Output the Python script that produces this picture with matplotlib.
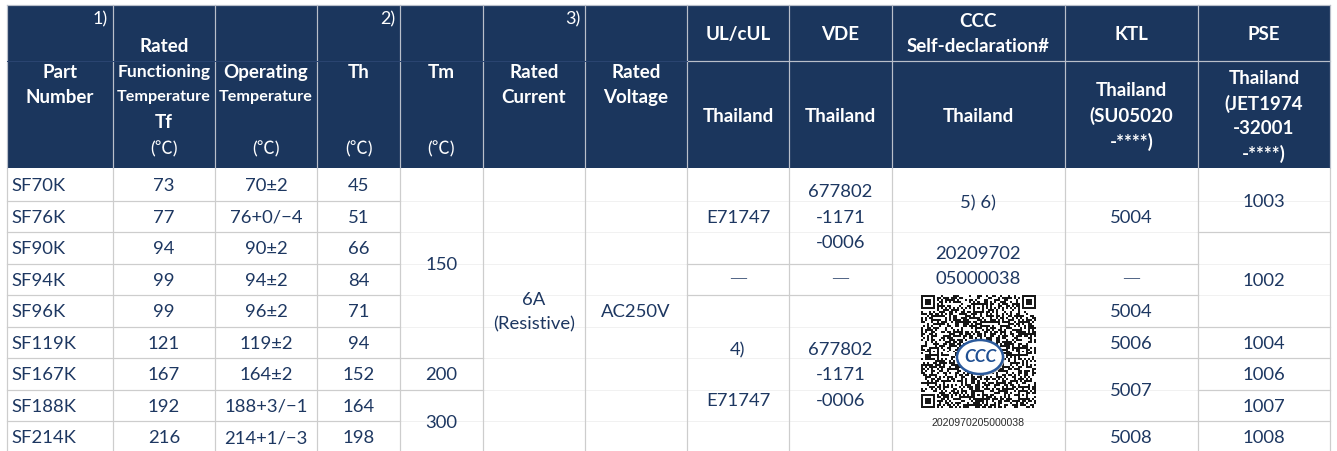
import matplotlib
matplotlib.use("Agg")
import matplotlib.pyplot as plt
from matplotlib.patches import Rectangle, Ellipse
from matplotlib import font_manager
import numpy as np

# ---------------- data ----------------
part_numbers = ["SF70K", "SF76K", "SF90K", "SF94K", "SF96K", "SF119K", "SF167K", "SF188K", "SF214K"]
rated_tf = ["73", "77", "94", "99", "99", "121", "167", "192", "216"]
operating_temp = ["70±2", "76+0/\u22124", "90±2", "94±2", "96±2", "119±2", "164±2", "188+3/\u22121", "214+1/\u22123"]
th_values = ["45", "51", "66", "84", "71", "94", "152", "164", "198"]

tm_values = ["150", "200", "300"]
tm_spans = [6, 1, 2]
rated_current = ["6A", "(Resistive)"]
rated_voltage = ["AC250V"]
ul_values = [["E71747"], ["\u2014"], ["4)", "", "E71747"]]
ul_spans = [3, 1, 5]
vde_values = [["677802", "-1171", "-0006"], ["\u2014"], ["677802", "-1171", "-0006"]]
vde_spans = [3, 1, 5]
ccc_notes = "5) 6)"
ccc_number = ["20209702", "05000038"]
ccc_qr_caption = "2020970205000038"
ktl_values = ["5004", "\u2014", "5004", "5006", "5007", "5008"]
ktl_spans = [3, 1, 1, 1, 2, 1]
pse_values = ["1003", "1002", "1004", "1006", "1007", "1008"]
pse_spans = [2, 3, 1, 1, 1, 1]

header_main = [["Part", "Number"],
               ["Rated", "Functioning", "Temperature", "Tf"],
               ["Operating", "Temperature"],
               ["Th"], ["Tm"],
               ["Rated", "Current"],
               ["Rated", "Voltage"]]
header_units = [None, "(\u2103)", "(\u2103)", "(\u2103)", "(\u2103)", None, None]
header_notes = {0: "1)", 3: "2)", 5: "3)"}
header_cert = [["UL/cUL"], ["VDE"], ["CCC", "Self-declaration#"], ["KTL"], ["PSE"]]
header_region = [["Thailand"], ["Thailand"], ["Thailand"],
                 ["Thailand", "(SU05020", "-****)"],
                 ["Thailand", "(JET1974", "-32001", "-****)"]]

# ---------------- layout / style ----------------
W, H = 1337, 451
col_x = [7, 113, 215, 317, 400, 483, 585, 687, 789, 892, 1065, 1198, 1330]
head_top, head_mid, head_bot = 5, 61, 168
row_top, row_h = 169, 31.55
nrows = len(part_numbers)
row_edges = [row_top + row_h * i for i in range(nrows + 1)]
LS = 25.3  # line spacing in px

navy = "#1b365d"
txt_col = "#1d3761"
grid = "#cdcdcd"
faint = "#f1f1f1"
hsep = "#b9bfca"

avail = {f.name for f in font_manager.fontManager.ttflist}
main_font = "Lato" if "Lato" in avail else "DejaVu Sans"
fam = [main_font, "Noto Sans CJK SC", "DejaVu Sans"]
DASH = "\u2014"

fig = plt.figure(figsize=(W / 100, H / 100), dpi=100)
ax = fig.add_axes([0, 0, 1, 1])
ax.set_xlim(0, W)
ax.set_ylim(H, 0)
ax.axis("off")

PX = 0.72  # 1px in points
DY = 1.2   # optical correction for va='center'


def cx(i):
    return (col_x[i] + col_x[i + 1]) / 2


def stack(x, yc, lines, color=txt_col, size=13.3, weight="normal", ha="center"):
    n = len(lines)
    y0 = yc - (n - 1) / 2 * LS
    for k, s in enumerate(lines):
        if not s:
            continue
        if s == DASH:
            ax.text(x, y0 + k * LS - 1, s, ha=ha, va="center", color=color,
                    fontsize=13, fontweight="ultralight", family=["DejaVu Sans"], zorder=5)
        else:
            ax.text(x, y0 + k * LS + DY, s, ha=ha, va="center", color=color,
                    fontsize=size, fontweight=weight, family=fam, zorder=5)


# ---------------- header ----------------
ax.add_patch(Rectangle((col_x[0], head_top), col_x[-1] - col_x[0], head_bot - head_top,
                       facecolor=navy, edgecolor="none", zorder=1))
for x in col_x:
    ax.plot([x, x], [head_top, head_bot], color=hsep, lw=1.2 * PX, zorder=2)
ax.plot([col_x[0], col_x[-1]], [head_top, head_top], color=hsep, lw=1.2 * PX, zorder=2)
ax.plot([col_x[7], col_x[-1]], [head_mid, head_mid], color=hsep, lw=1.2 * PX, zorder=2)
ax.plot([col_x[0], col_x[7]], [head_mid, head_mid], color="#2a4470", lw=1.0 * PX, zorder=2)

head_size = {"Functioning": 12.6, "Temperature": 11.6}
main_start = [71, 45, 71, 71, 71, 71, 71]
for i, lines in enumerate(header_main):
    for k, s in enumerate(lines):
        ax.text(cx(i), main_start[i] + k * LS + DY, s, ha="center", va="center",
                color="white", fontsize=head_size.get(s, 13.5), fontweight="bold",
                family=fam, zorder=5)
    if header_units[i]:
        ax.text(cx(i), 148 + DY, header_units[i], ha="center", va="center",
                color="white", fontsize=13, family=fam, zorder=5)
for i, s in header_notes.items():
    ax.text(col_x[i + 1] - 5, 18 + DY, s, ha="right", va="center", color="white",
            fontsize=13, family=fam, zorder=5)
for j, lines in enumerate(header_cert):
    stack(cx(7 + j), 33, lines, color="white", size=13.5, weight="bold")
for j, lines in enumerate(header_region):
    stack(cx(7 + j), 115, lines, color="white", size=13.5, weight="bold")

# ---------------- body grid ----------------
for x in col_x:
    ax.plot([x, x], [row_top, row_edges[-1]], color=grid, lw=1.2 * PX, zorder=2)

# simple per-row columns
for r in range(nrows):
    yc = (row_edges[r] + row_edges[r + 1]) / 2
    ax.text(col_x[0] + 4, yc + DY, part_numbers[r], ha="left", va="center",
            color=txt_col, fontsize=13.3, family=fam, zorder=5)
    stack(cx(1), yc, [rated_tf[r]])
    stack(cx(2), yc, [operating_temp[r]])
    stack(cx(3), yc, [th_values[r]])
    if r < nrows - 1:
        ax.plot([col_x[0], col_x[4]], [row_edges[r + 1]] * 2, color=grid, lw=1.2 * PX, zorder=2)


def span_column(ci, values, spans):
    r = 0
    for val, sp in zip(values, spans):
        y0, y1 = row_edges[r], row_edges[r + sp]
        lines = val if isinstance(val, list) else [val]
        stack(cx(ci), (y0 + y1) / 2, lines)
        for k in range(r + 1, r + sp):
            ax.plot([col_x[ci], col_x[ci + 1]], [row_edges[k]] * 2, color=faint,
                    lw=1.0 * PX, zorder=1.5)
        if r + sp < nrows:
            ax.plot([col_x[ci], col_x[ci + 1]], [y1] * 2, color=grid, lw=1.2 * PX, zorder=2)
        r += sp


span_column(4, tm_values, tm_spans)
span_column(5, [rated_current], [nrows])
span_column(6, [rated_voltage], [nrows])
span_column(7, ul_values, ul_spans)
span_column(8, vde_values, vde_spans)
span_column(10, ktl_values, ktl_spans)
span_column(11, pse_values, pse_spans)

# ---------------- CCC merged cell ----------------
for k in range(1, nrows):
    ax.plot([col_x[9], col_x[10]], [row_edges[k]] * 2, color=faint, lw=1.0 * PX, zorder=1.5)
ccx = cx(9) - 0.5
stack(ccx, 202, [ccc_notes])
stack(ccx, 265, ccc_number)

# QR-code picture (deterministic pattern derived from the certificate number)
n = 57
seed_digits = [int(c) for c in ccc_qr_caption]
qr = np.zeros((n, n), dtype=int)
for i in range(n):
    for j in range(n):
        h = ((i + 1) * 2654435761 ^ (j + 7) * 40503 ^ (i * j * 977) ^ seed_digits[(i + j) % 16] * 131) & 0xFFFFFFFF
        h = (h * 2246822519) & 0xFFFFFFFF
        qr[i, j] = (h >> 15) & 1


def finder(r0, c0):
    for a in range(-1, 8):
        for b in range(-1, 8):
            rr, cc = r0 + a, c0 + b
            if 0 <= rr < n and 0 <= cc < n:
                if 0 <= a <= 6 and 0 <= b <= 6:
                    ring = max(abs(a - 3), abs(b - 3))
                    qr[rr, cc] = 1 if ring in (3, 1, 0) else 0
                else:
                    qr[rr, cc] = 0


finder(0, 0)
finder(0, n - 7)
finder(n - 7, 0)
for k in range(8, n - 8):
    qr[6, k] = (k + 1) % 2
    qr[k, 6] = (k + 1) % 2
for (ar, ac) in [(6, 28), (28, 6), (28, 50), (50, 28), (50, 50)]:
    for a in range(-2, 3):
        for b in range(-2, 3):
            ring = max(abs(a), abs(b))
            qr[ar + a, ac + b] = 1 if ring in (2, 0) else 0

qx0, qx1, qy0, qy1 = 921, 1036, 295, 408
ax.imshow(qr, cmap="gray_r", vmin=0, vmax=1.1, interpolation="nearest",
          extent=(qx0, qx1, qy1, qy0), aspect="auto", zorder=3)
ax.add_patch(Ellipse((981.5, 358.5), 46, 34, facecolor="#bdbdbd", edgecolor="none", zorder=3.5))
ax.add_patch(Ellipse((980, 357), 46, 34, facecolor="white", edgecolor="#2b5a9c",
                     lw=1.8, zorder=3.6))
ax.text(980, 357.5, "CCC", ha="center", va="center", color="#1f4f92", fontsize=12.5,
        fontweight="bold", style="italic", family=fam, zorder=4)
ax.text(ccx, 423, ccc_qr_caption, ha="center", va="center", color="#2b2b2b",
        fontsize=7.6, family=["Liberation Sans", "DejaVu Sans"], zorder=5)

ax.set_xlim(0, W)
ax.set_ylim(H, 0)
fig.savefig("out.png", dpi=100, facecolor="white")
